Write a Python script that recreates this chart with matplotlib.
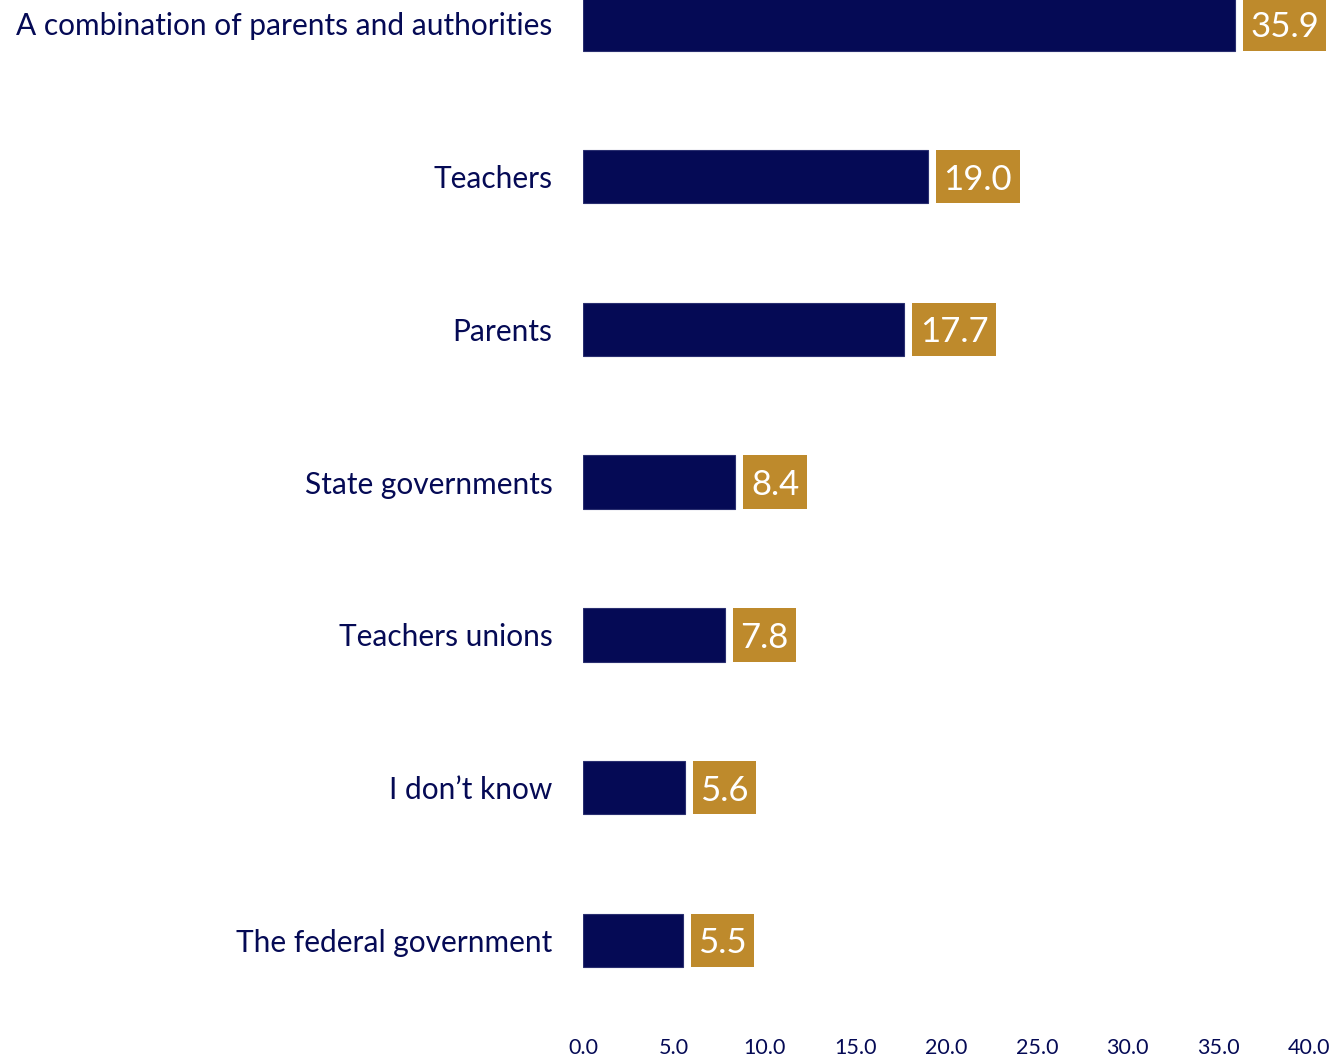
import matplotlib.pyplot as plt

# Survey answers, top to bottom
categories = ["A combination of parents and authorities", "Teachers", "Parents",
              "State governments", "Teachers unions", "I don\u2019t know",
              "The federal government"]
values = [35.9, 19.0, 17.7, 8.4, 7.8, 5.6, 5.5]
xticks = [0, 5, 10, 15, 20, 25, 30, 35, 40]

navy = "#050A55"
gold = "#BE8A2C"

plt.rcParams['font.family'] = ['Lato', 'DejaVu Sans']

fig = plt.figure(figsize=(13.44, 10.61), dpi=100)
ax = fig.add_axes([0.4338, 0.0245, 0.5402, 0.9755])

pos = list(range(len(categories)))
bar_h = 0.35
ax.barh(pos, values, height=bar_h, color=navy, edgecolor="#2a2f70", linewidth=0.8)

ax.set_xlim(0, 40)
ax.set_ylim(6.62, -0.157)
ax.set_yticks(pos)
ax.set_yticklabels(categories, fontsize=21.5, color=navy)
ax.set_xticks(xticks)
ax.set_xticklabels([f"{t:.1f}" for t in xticks], fontsize=15.5, color=navy)
ax.tick_params(axis="y", length=0, pad=22)
ax.tick_params(axis="x", length=0, pad=2)
for s in ax.spines.values():
    s.set_visible(False)

# value labels in gold boxes, same height as the bars
fig.canvas.draw()
renderer = fig.canvas.get_renderer()
px_per_unit = ax.transData.transform((1, 0))[0] - ax.transData.transform((0, 0))[0]
gap = 8 / px_per_unit
pad = 7.5 / px_per_unit
for y, v in zip(pos, values):
    t = ax.text(0, y, f"{v:.1f}", va="center_baseline", ha="center", color="white",
                fontsize=25, zorder=3, clip_on=False)
    w = t.get_window_extent(renderer).width / px_per_unit
    left = v + gap
    box = ax.barh(y, w + 2 * pad, left=left, height=bar_h, color=gold)
    for p in box:
        p.set_clip_on(False)
    t.set_x(left + pad + w / 2)

fig.savefig("out.png", dpi=100)
